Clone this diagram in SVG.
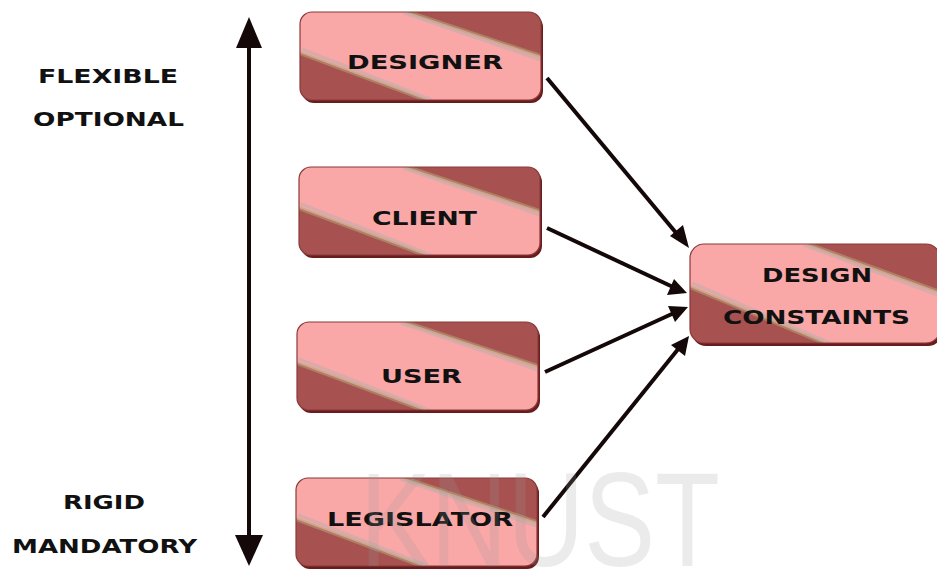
<svg xmlns="http://www.w3.org/2000/svg" width="937" height="570" viewBox="0 0 937 570">
<defs>
<clipPath id="cA"><rect x="0" y="0" width="241" height="88" rx="12"/></clipPath>
<clipPath id="cB"><rect x="0" y="0" width="250" height="99" rx="14"/></clipPath>
<g id="fillA">
<rect x="2" y="3" width="241" height="88" rx="12" fill="#6a1c1c"/>
<g clip-path="url(#cA)">
<rect x="0" y="0" width="241" height="88" fill="#f9a7a7"/>
<polygon points="108,0 241,0 241,44" fill="#a75151"/>
<polygon points="0,41 0,88 126,88" fill="#a75151"/>
<line x1="108" y1="0" x2="241" y2="44" stroke="#b3a676" stroke-width="4" stroke-opacity="0.55"/>
<line x1="104" y1="1" x2="241" y2="48" stroke="#b8b0b0" stroke-width="3" stroke-opacity="0.5"/>
<line x1="0" y1="41" x2="126" y2="88" stroke="#b3a676" stroke-width="4" stroke-opacity="0.55"/>
<line x1="2" y1="37" x2="132" y2="88" stroke="#b8b0b0" stroke-width="3" stroke-opacity="0.5"/>
</g>
<rect x="0" y="0" width="241" height="88" rx="12" fill="none" stroke="#8a3a3a" stroke-width="1.2"/>
</g>
<g id="fillB">
<rect x="2" y="3" width="250" height="99" rx="14" fill="#6a1c1c"/>
<g clip-path="url(#cB)">
<rect x="0" y="0" width="250" height="99" fill="#f9a7a7"/>
<polygon points="118,0 250,0 250,48" fill="#a75151"/>
<polygon points="0,43 0,99 134,99" fill="#a75151"/>
<line x1="118" y1="0" x2="250" y2="48" stroke="#b3a676" stroke-width="4" stroke-opacity="0.55"/>
<line x1="114" y1="1" x2="250" y2="52" stroke="#b8b0b0" stroke-width="3" stroke-opacity="0.5"/>
<line x1="0" y1="43" x2="134" y2="99" stroke="#b3a676" stroke-width="4" stroke-opacity="0.55"/>
<line x1="2" y1="39" x2="140" y2="99" stroke="#b8b0b0" stroke-width="3" stroke-opacity="0.5"/>
</g>
<rect x="0" y="0" width="250" height="99" rx="14" fill="none" stroke="#8a3a3a" stroke-width="1.2"/>
</g>
</defs>
<style>
.lbl{font-family:"DejaVu Sans",sans-serif;font-weight:bold;font-size:19px;fill:#111}
.side{font-family:"DejaVu Sans",sans-serif;font-weight:bold;font-size:19px;fill:#111}
.con{stroke:#140808;stroke-width:4;fill:none}
</style>
<rect width="937" height="570" fill="#fff"/>
<g id="side-labels">
<text class="side" x="38" y="83" textLength="140" lengthAdjust="spacingAndGlyphs">FLEXIBLE</text>
<text class="side" x="33" y="126" textLength="151" lengthAdjust="spacingAndGlyphs">OPTIONAL</text>
<text class="side" x="63" y="509" textLength="82" lengthAdjust="spacingAndGlyphs">RIGID</text>
<text class="side" x="12" y="553" textLength="185" lengthAdjust="spacingAndGlyphs">MANDATORY</text>
</g>
<g id="designer">
<use href="#fillA" transform="translate(300,12)"/>
<text class="lbl" x="347" y="69" textLength="156" lengthAdjust="spacingAndGlyphs">DESIGNER</text>
</g>
<g id="client">
<use href="#fillA" transform="translate(299,167)"/>
<text class="lbl" x="372" y="225" textLength="105" lengthAdjust="spacingAndGlyphs">CLIENT</text>
</g>
<g id="user">
<use href="#fillA" transform="translate(297,322)"/>
<text class="lbl" x="381" y="383" textLength="81" lengthAdjust="spacingAndGlyphs">USER</text>
</g>
<g id="legislator">
<use href="#fillA" transform="translate(296,478)"/>
<text class="lbl" x="327" y="526" textLength="186" lengthAdjust="spacingAndGlyphs">LEGISLATOR</text>
</g>
<g id="design-constaints">
<use href="#fillB" transform="translate(690,244)"/>
<text class="lbl" x="762" y="282" textLength="110" lengthAdjust="spacingAndGlyphs">DESIGN</text>
<text class="lbl" x="723" y="324" textLength="187" lengthAdjust="spacingAndGlyphs">CONSTAINTS</text>
</g>
<g id="connectors">
<line class="con" x1="249" y1="48" x2="249" y2="538" stroke-width="6"/>
<path d="M249,17 L236,48 L262,48 z" fill="#140808"/>
<path d="M249,566 L235,535 L263,535 z" fill="#140808"/>
<line class="con" x1="547" y1="78" x2="677" y2="234"/>
<path d="M689,248 L670,236 L683,225 z" fill="#140808"/>
<line class="con" x1="547" y1="228" x2="673" y2="287"/>
<path d="M687,293 L667,295 L674,279 z" fill="#140808"/>
<line class="con" x1="545" y1="372" x2="674" y2="313"/>
<path d="M688,307 L675,322 L668,306 z" fill="#140808"/>
<line class="con" x1="543" y1="517" x2="679" y2="348"/>
<path d="M689,336 L685,356 L671,345 z" fill="#140808"/>
</g>
<text x="360" y="566" font-family="Liberation Sans, sans-serif" font-size="134" fill="#9a9a9a" fill-opacity="0.2" textLength="360" lengthAdjust="spacingAndGlyphs">KNUST</text>
</svg>
